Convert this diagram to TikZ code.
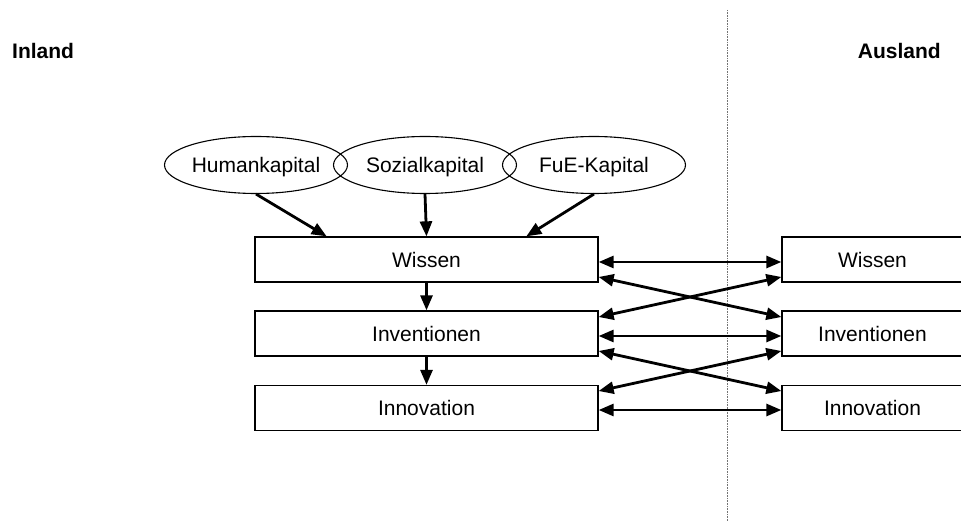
\documentclass[tikz,border=0pt]{standalone}
\usepackage{fontspec}
\setmainfont{Liberation Sans}
\usetikzlibrary{shapes.geometric,arrows.meta,calc}
\begin{document}
\begin{tikzpicture}[x=1pt,y=-1pt,
  every node/.style={font=\fontsize{21}{25}\selectfont},
  capnode/.style={draw,ellipse,line width=1.1pt,minimum width=183pt,minimum height=57pt,inner sep=0pt,text depth=0pt},
  lbox/.style={draw,line width=1.3pt,minimum width=343pt,minimum height=45pt,inner sep=0pt},
  rbox/.style={draw,line width=1.3pt,minimum width=181pt,minimum height=45pt,inner sep=0pt},
  title/.style={font=\fontsize{21}{25}\selectfont\bfseries,inner sep=0pt},
  arr/.style={line width=2.8pt,-{Triangle[length=15pt,width=12pt]}},
  darr/.style={line width=2.8pt,{Triangle[length=15pt,width=12pt]}-{Triangle[length=15pt,width=12pt]}},
  sep/.style={draw=black!55,line width=0.9pt,dash pattern=on 0.8pt off 0.8pt}
]
\useasboundingbox (0,0) rectangle (961,521);
\clip (0,0) rectangle (961,521);

\node[title,anchor=base west] (inland) at (12,59) {Inland};
\node[title,anchor=base east] (ausland) at (941,59) {Ausland};

\coordinate (st) at (727,10);
\coordinate (sb) at (727,521);
\draw[sep] (st) -- (sb);

\node[capnode] (hk) at (256,165) {Humankapital};
\node[capnode] (sk) at (425,165) {Sozialkapital};
\node[capnode] (fk) at (594,165) {FuE-Kapital};

\node[lbox] (wl) at (426.5,259.5) {Wissen};
\node[lbox] (il) at (426.5,333.5) {Inventionen};
\node[lbox] (nl) at (426.5,408) {Innovation};

\node[rbox] (wr) at (872.5,259.5) {Wissen};
\node[rbox] (ir) at (872.5,333.5) {Inventionen};
\node[rbox] (nr) at (872.5,408) {Innovation};

\draw[arr] (hk.south) -- ($(wl.north west)!0.21!(wl.north east)$);
\draw[arr] (sk.south) -- (wl.north);
\draw[arr] (fk.south) -- ($(wl.north west)!0.79!(wl.north east)$);
\draw[arr] (wl.south) -- (il.north);
\draw[arr] (il.south) -- (nl.north);

\draw[darr] ([yshift=-2.5pt]wl.east) -- ([yshift=-2.5pt]wr.west);
\draw[darr] ([yshift=-17.5pt]wl.east) -- ([yshift=16.5pt]ir.west);
\draw[darr] ([yshift=16.5pt]il.east) -- ([yshift=-17.5pt]wr.west);
\draw[darr] ([yshift=-2.5pt]il.east) -- ([yshift=-2.5pt]ir.west);
\draw[darr] ([yshift=-17.5pt]il.east) -- ([yshift=17pt]nr.west);
\draw[darr] ([yshift=17pt]nl.east) -- ([yshift=-17.5pt]ir.west);
\draw[darr] ([yshift=-2pt]nl.east) -- ([yshift=-2pt]nr.west);
\end{tikzpicture}
\end{document}
